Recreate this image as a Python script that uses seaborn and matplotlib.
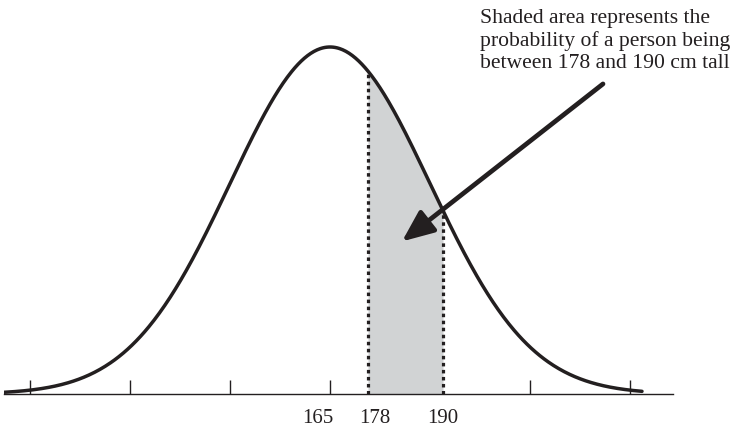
import numpy as np
import matplotlib
matplotlib.use("Agg")
import matplotlib.pyplot as plt
import seaborn as sns

# heights in cm shown on the chart
mean_cm = 165
bounds_cm = [178, 190]
# the drawing is not to scale: positions in standard deviations as drawn
bounds_z = [0.38, 1.13]
label_z = [-0.12, 0.45, 1.13]
tick_z = [-3, -2, -1, 0, 1, 2, 3]
curve_range_z = [-3.26, 3.12]

note = ("Shaded area represents the\n"
        "probability of a person being\n"
        f"between {bounds_cm[0]} and {bounds_cm[1]} cm tall")

ink = "#231f20"
shade = "#d1d3d4"

sns.set_theme(style="white")
plt.rcParams["font.family"] = ["Liberation Serif", "DejaVu Serif"]

fig = plt.figure(figsize=(7.35, 4.31), dpi=100)
ax = fig.add_axes([4 / 735, 36 / 431, 669 / 735, 395 / 431])

# normal density of the heights (standard units)
z = np.linspace(curve_range_z[0], curve_range_z[1], 600)
dens = np.exp(-z ** 2 / 2) / np.sqrt(2 * np.pi)
sns.lineplot(x=z, y=dens, ax=ax, color=ink, lw=2.5, zorder=5)

# shaded area between the two heights
zs = np.linspace(bounds_z[0], bounds_z[1], 200)
ds = np.exp(-zs ** 2 / 2) / np.sqrt(2 * np.pi)
ax.fill_between(zs, 0, ds, color=shade, lw=0, zorder=3)
for b in bounds_z:
    top = np.exp(-b ** 2 / 2) / np.sqrt(2 * np.pi)
    ax.plot([b, b], [0, top], color=ink, lw=2.3, ls=(0, (1.1, 1.1)),
            solid_capstyle="butt", dash_capstyle="butt", zorder=4)

ax.set_xlim(-3.26, 3.43)
ax.set_ylim(0, 0.39894 * 395 / 347)

for s in ["top", "left", "right"]:
    ax.spines[s].set_visible(False)
ax.spines["bottom"].set_color(ink)
ax.spines["bottom"].set_linewidth(1.0)
ax.spines["bottom"].set_zorder(4)
ax.set_yticks([])

ax.set_xticks(label_z, [str(mean_cm)] + [str(b) for b in bounds_cm])
ax.set_xticks(tick_z, minor=True)
ax.tick_params(axis="x", which="major", length=0, pad=10, labelsize=15,
               labelcolor=ink)
ax.tick_params(axis="x", which="minor", direction="in", length=10,
               width=1.0, color=ink, bottom=True)

# arrow pointing into the shaded area
ax.annotate("", xy=(0.72, 0.1754), xytext=(2.73, 0.3565),
            arrowprops=dict(arrowstyle="-|>,head_length=0.4,head_width=0.17",
                            mutation_scale=48, lw=3.4, color=ink,
                            shrinkA=0, shrinkB=0), zorder=6)

fig.text(480 / 735, 1 - 9 / 431, note, ha="left", va="top", fontsize=15.6,
         color=ink, linespacing=1.22)

fig.savefig("out.png", dpi=100)
